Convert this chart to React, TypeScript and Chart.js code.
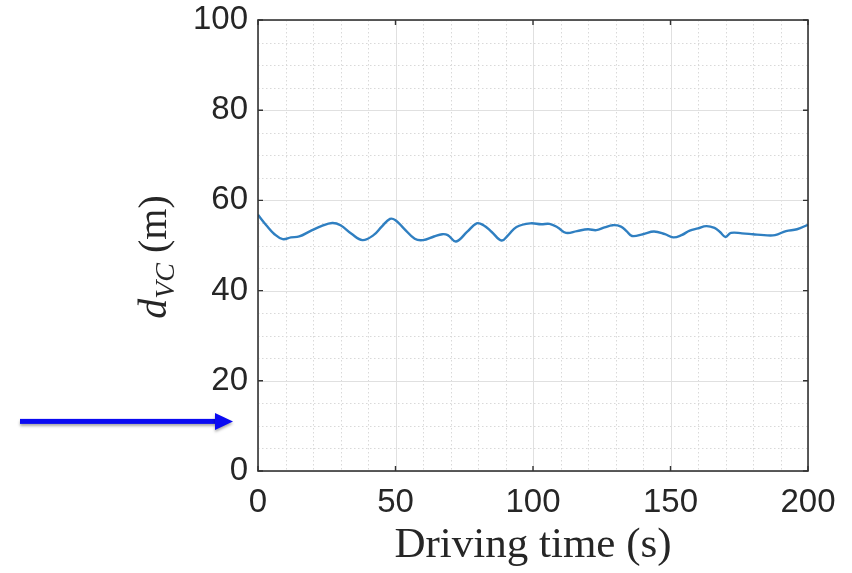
import React, { useEffect, useRef } from "react";
import { Chart, registerables } from "chart.js";

Chart.register(...registerables);

// ---- data ----
const timeSec = [
  0, 3, 6, 9, 12, 15, 19, 23, 27, 30, 34, 38, 42, 45, 48, 50, 53, 57, 60, 64,
  67, 69, 72, 76, 79.5, 82, 85, 88.6, 91, 94, 99, 103, 106, 109, 112, 116, 120,
  123, 126, 129, 132, 134, 136, 140, 144, 148, 151, 154, 157, 160, 163, 166,
  168, 170, 172, 176, 180, 184, 188, 192, 196, 200,
];
const distanceM = [
  56.8, 54.5, 52.5, 51.4, 51.8, 52.0, 53.2, 54.3, 55.0, 54.5, 52.6, 51.2, 52.3,
  54.2, 55.9, 55.6, 53.8, 51.5, 51.2, 52.0, 52.5, 52.3, 50.9, 53.0, 54.9, 54.5,
  53.0, 51.1, 52.3, 54.1, 54.9, 54.7, 54.8, 54.0, 52.8, 53.2, 53.6, 53.4, 54.0,
  54.5, 54.2, 53.2, 52.1, 52.5, 53.1, 52.5, 51.8, 52.3, 53.3, 53.8, 54.3, 53.9,
  53.0, 51.9, 52.8, 52.7, 52.5, 52.3, 52.3, 53.2, 53.6, 54.6,
];
const xTickValues = [0, 50, 100, 150, 200];
const yTickValues = [0, 20, 40, 60, 80, 100];
const xMinorStep = 10;
const yMinorStep = 5;
const xTitle = "Driving time (s)";
const yTitleVar = "d";
const yTitleSub = "VC";
const yTitleUnit = " (m)";
const arrowValue = 11;

const TEXT = "#262626";
const LINE = "#2f7fc1";

const framePlugin = {
  id: "matlabFrame",
  beforeDatasetsDraw(chart: any) {
    const { ctx, chartArea: a, scales } = chart;
    const xs = scales.x, ys = scales.y;
    ctx.save();
    ctx.strokeStyle = "#d9d9d9";
    ctx.lineWidth = 1;
    ctx.setLineDash([1.5, 2.5]);
    for (let v = xs.min; v <= xs.max; v += xMinorStep) {
      if (xTickValues.includes(v)) continue;
      const p = Math.round(xs.getPixelForValue(v)) + 0.5;
      ctx.beginPath(); ctx.moveTo(p, a.top); ctx.lineTo(p, a.bottom); ctx.stroke();
    }
    for (let v = ys.min; v <= ys.max; v += yMinorStep) {
      if (yTickValues.includes(v)) continue;
      const p = Math.round(ys.getPixelForValue(v)) + 0.5;
      ctx.beginPath(); ctx.moveTo(a.left, p); ctx.lineTo(a.right, p); ctx.stroke();
    }
    ctx.setLineDash([]);
    ctx.strokeStyle = "#e0e0e0";
    for (const v of xTickValues) {
      const p = Math.round(xs.getPixelForValue(v)) + 0.5;
      ctx.beginPath(); ctx.moveTo(p, a.top); ctx.lineTo(p, a.bottom); ctx.stroke();
    }
    for (const v of yTickValues) {
      const p = Math.round(ys.getPixelForValue(v)) + 0.5;
      ctx.beginPath(); ctx.moveTo(a.left, p); ctx.lineTo(a.right, p); ctx.stroke();
    }
    ctx.restore();
  },
  afterDatasetsDraw(chart: any) {
    const { ctx, chartArea: a, scales } = chart;
    const xs = scales.x, ys = scales.y;
    ctx.save();
    ctx.strokeStyle = "#333333";
    ctx.lineWidth = 1.6;
    ctx.strokeRect(a.left, a.top, a.right - a.left, a.bottom - a.top);
    const tl = 5;
    ctx.lineWidth = 1.4;
    for (const v of xTickValues) {
      const p = xs.getPixelForValue(v);
      ctx.beginPath();
      ctx.moveTo(p, a.bottom); ctx.lineTo(p, a.bottom - tl);
      ctx.moveTo(p, a.top); ctx.lineTo(p, a.top + tl);
      ctx.stroke();
    }
    for (const v of yTickValues) {
      const p = ys.getPixelForValue(v);
      ctx.beginPath();
      ctx.moveTo(a.left, p); ctx.lineTo(a.left + tl, p);
      ctx.moveTo(a.right, p); ctx.lineTo(a.right - tl, p);
      ctx.stroke();
    }
    ctx.restore();
  },
  afterDraw(chart: any) {
    const { ctx, chartArea: a, scales } = chart;
    const ys = scales.y;
    ctx.save();
    ctx.fillStyle = TEXT;
    ctx.font = "43px 'Liberation Serif'";
    ctx.textAlign = "center";
    ctx.textBaseline = "alphabetic";
    ctx.fillText(xTitle, (a.left + a.right) / 2, 557);
    const bigFont = "italic 40px 'Liberation Serif'";
    const subFont = "italic 28px 'Liberation Serif'";
    const unitFont = "40px 'Liberation Serif'";
    ctx.font = bigFont; const w1 = ctx.measureText(yTitleVar).width;
    ctx.font = subFont; const w2 = ctx.measureText(yTitleSub).width;
    ctx.font = unitFont; const w3 = ctx.measureText(yTitleUnit).width;
    const total = w1 + w2 + w3;
    ctx.translate(166, 257);
    ctx.rotate(-Math.PI / 2);
    ctx.textAlign = "left";
    let x0 = -total / 2;
    ctx.font = bigFont; ctx.fillText(yTitleVar, x0, 0); x0 += w1;
    ctx.font = subFont; ctx.fillText(yTitleSub, x0, 8); x0 += w2;
    ctx.font = unitFont; ctx.fillText(yTitleUnit, x0, 0);
    ctx.restore();

    ctx.save();
    const ay = ys.getPixelForValue(arrowValue);
    const tipX = a.left - 25;
    const startX = 20;
    ctx.shadowColor = "rgba(0,0,0,0.35)";
    ctx.shadowBlur = 3;
    ctx.shadowOffsetY = 2;
    ctx.fillStyle = "#0a0af2";
    ctx.fillRect(startX, ay - 2.5, tipX - 17 - startX, 5);
    ctx.beginPath();
    ctx.moveTo(tipX - 18, ay - 8.5);
    ctx.lineTo(tipX, ay);
    ctx.lineTo(tipX - 18, ay + 8.5);
    ctx.closePath();
    ctx.fill();
    ctx.restore();
  },
};

export default function App() {
  const ref = useRef<HTMLCanvasElement | null>(null);
  useEffect(() => {
    if (!ref.current) return;
    const points = timeSec.map((t, i) => ({ x: t, y: distanceM[i] }));
    const tickFont = { family: "'Liberation Sans', Arial, sans-serif", size: 33 };
    const chart = new Chart(ref.current, {
      type: "line",
      data: {
        datasets: [
          {
            data: points,
            borderColor: LINE,
            borderWidth: 2.4,
            pointRadius: 0,
            tension: 0.4,
            fill: false,
          },
        ],
      },
      options: {
        responsive: false,
        animation: false,
        layout: { autoPadding: false, padding: { left: 0, right: 44, top: 20, bottom: 0 } } as any,
        plugins: { legend: { display: false }, tooltip: { enabled: false } },
        scales: {
          x: {
            type: "linear",
            min: 0,
            max: 200,
            grid: { display: false, drawTicks: false },
            border: { display: false },
            afterBuildTicks: (s: any) => { s.ticks = xTickValues.map((v) => ({ value: v })); },
            afterFit: (s: any) => {
              s.height = 102;
              s.paddingLeft = 0; s.paddingRight = 0; s.paddingTop = 0; s.paddingBottom = 0;
            },
            ticks: { font: tickFont, color: TEXT, padding: 12, autoSkip: false, maxRotation: 0 },
          },
          y: {
            type: "linear",
            min: 0,
            max: 100,
            grid: { display: false, drawTicks: false },
            border: { display: false },
            afterBuildTicks: (s: any) => { s.ticks = yTickValues.map((v) => ({ value: v })); },
            afterFit: (s: any) => {
              s.width = 258;
              s.paddingLeft = 0; s.paddingRight = 0; s.paddingTop = 0; s.paddingBottom = 0;
            },
            ticks: { font: tickFont, color: TEXT, padding: 10, autoSkip: false },
          },
        },
      },
      plugins: [framePlugin],
    });
    return () => chart.destroy();
  }, []);
  return (
    <div style={{ position: "absolute", left: 0, top: 0, width: 852, height: 573, background: "#fff" }}>
      <canvas ref={ref} width={852} height={573} />
    </div>
  );
}
